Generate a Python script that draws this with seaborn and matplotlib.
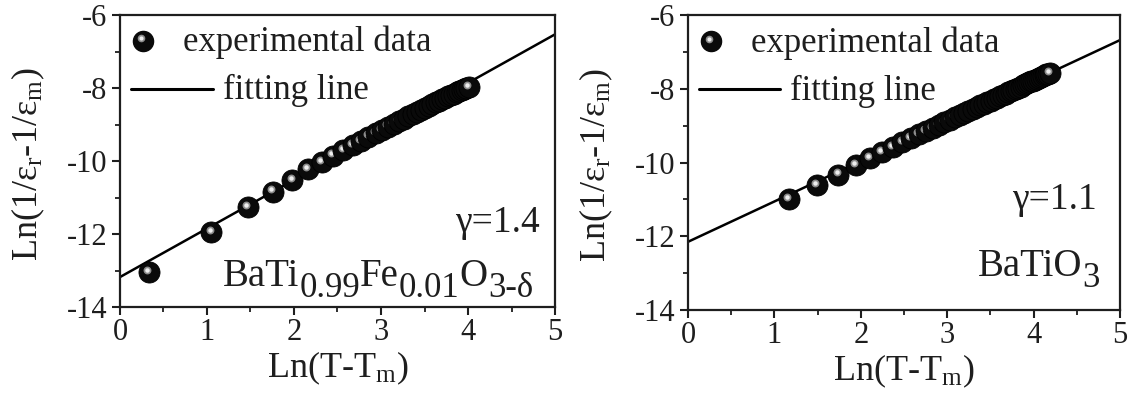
import matplotlib
matplotlib.use("Agg")
import matplotlib.pyplot as plt
from matplotlib.transforms import ScaledTranslation
from matplotlib.ticker import MultipleLocator
import seaborn as sns

# ---- data: Ln(T-Tm) vs Ln(1/eps_r - 1/eps_m) ----
fe_x = [0.33, 1.05, 1.47, 1.758, 1.981, 2.163, 2.317, 2.451, 2.569, 2.674,
        2.769, 2.856, 2.937, 3.011, 3.080, 3.144, 3.205, 3.262, 3.316, 3.367,
        3.416, 3.463, 3.507, 3.550, 3.590, 3.630, 3.667, 3.704, 3.739, 3.773,
        3.806, 3.837, 3.868, 3.898, 3.927, 3.955, 3.982, 4.009]
fe_y = [-13.05, -11.94, -11.26, -10.84, -10.52, -10.23, -10.03, -9.85, -9.70, -9.56,
        -9.45, -9.33, -9.23, -9.15, -9.06, -8.99, -8.91, -8.84, -8.78, -8.71,
        -8.66, -8.59, -8.55, -8.49, -8.45, -8.39, -8.35, -8.30, -8.27, -8.22,
        -8.19, -8.16, -8.12, -8.09, -8.05, -8.02, -7.99, -7.97]
fe_fit = (-13.18, 1.33)      # intercept, slope

bt_x = [1.163, 1.493, 1.740, 1.939, 2.104, 2.246, 2.370, 2.481, 2.580, 2.671,
        2.754, 2.830, 2.901, 2.968, 3.030, 3.089, 3.144, 3.197, 3.246, 3.294,
        3.339, 3.383, 3.424, 3.464, 3.503, 3.540, 3.575, 3.610, 3.643, 3.675,
        3.706, 3.736, 3.766, 3.794, 3.822, 3.849, 3.875, 3.901, 3.926, 3.950,
        3.974, 3.997, 4.020, 4.042, 4.064, 4.085, 4.106, 4.126, 4.146, 4.166,
        4.185]
bt_y = [-11.00, -10.62, -10.33, -10.08, -9.89, -9.72, -9.58, -9.45, -9.34, -9.24,
        -9.15, -9.06, -8.98, -8.91, -8.84, -8.77, -8.71, -8.65, -8.60, -8.55,
        -8.50, -8.45, -8.40, -8.36, -8.32, -8.28, -8.24, -8.20, -8.16, -8.13,
        -8.10, -8.06, -8.03, -8.00, -7.97, -7.94, -7.91, -7.88, -7.85, -7.83,
        -7.80, -7.78, -7.75, -7.73, -7.70, -7.68, -7.66, -7.64, -7.61, -7.59,
        -7.57]
bt_fit = (-12.15, 1.094)

fit_x = [0, 5]
x_ticks = [0, 1, 2, 3, 4, 5]
y_ticks = [-14, -12, -10, -8, -6]

fe_formula = ["BaTi", "0.99", "Fe", "0.01", "O", "3-δ"]
bt_formula = ["BaTiO", "3"]

INK = "#1e1e1e"

sns.set_theme(style="ticks")
plt.rcParams["font.family"] = ["Liberation Serif", "DejaVu Serif"]
plt.rcParams["mathtext.fontset"] = "custom"
plt.rcParams["mathtext.rm"] = "Liberation Serif"
plt.rcParams["mathtext.it"] = "Liberation Serif:italic"
plt.rcParams["mathtext.default"] = "rm"

fig = plt.figure(figsize=(11.35, 3.97), dpi=100)
ax1 = fig.add_axes([0.1057, 0.2267, 0.3833, 0.7355])
ax2 = fig.add_axes([0.6062, 0.2191, 0.3806, 0.7431])

BALL = 230


def balls(ax, xs, ys, size):
    # shaded spheres, drawn one by one so each overlaps the previous one
    shift = ax.transData + ScaledTranslation(-1.3 / 72, 1.6 / 72, fig.dpi_scale_trans)
    z = 3
    for xi, yi in zip(xs, ys):
        sns.scatterplot(x=[xi], y=[yi], ax=ax, s=size, color="#0a0a0a",
                        edgecolor="#000000", linewidth=0.6, zorder=z, legend=False)
        ax.scatter([xi], [yi], s=size * 0.14, color="#8c8c8c", linewidth=0,
                   transform=shift, zorder=z + 0.1)
        ax.scatter([xi], [yi], s=size * 0.045, color="#eeeeee", linewidth=0,
                   transform=shift, zorder=z + 0.2)
        z += 1


def formula(ax, x, y, parts, size, sub_size, drop):
    t = ax.text(x, y, parts[0], transform=ax.transAxes, fontsize=size,
                ha="left", va="baseline", color=INK)
    for i, p in enumerate(parts[1:], 1):
        sub = i % 2 == 1
        t = ax.annotate(p, xy=(1, y), xycoords=(t, "axes fraction"),
                        xytext=(0, -drop if sub else 0), textcoords="offset points",
                        fontsize=sub_size if sub else size, ha="left", va="baseline",
                        color=INK)


def panel(ax, xs, ys, fit, gamma, gx, gy, parts, fx, fy):
    b, m = fit
    sns.lineplot(x=fit_x, y=[b + m * v for v in fit_x], ax=ax, color="black",
                 linewidth=1.8, zorder=2)
    balls(ax, xs, ys, BALL)

    ax.set_xlim(0, 5)
    ax.set_ylim(-14, -6)
    ax.xaxis.set_minor_locator(MultipleLocator(0.5))
    ax.yaxis.set_minor_locator(MultipleLocator(1))
    ax.set_xticks(x_ticks)
    ax.set_xticklabels([str(v) for v in x_ticks])
    ax.set_yticks(y_ticks)
    ax.set_yticklabels([str(v) for v in y_ticks])
    ax.tick_params(axis="x", which="major", pad=2)
    ax.tick_params(axis="y", which="major", pad=3)
    ax.tick_params(which="major", direction="out", length=6, width=1.5,
                   labelsize=22, color=INK, labelcolor=INK)
    ax.tick_params(which="minor", direction="out", length=3.5, width=1.3, color=INK)
    for s in ax.spines.values():
        s.set_visible(True)
        s.set_linewidth(1.6)
        s.set_color(INK)

    ax.set_xlabel(r"Ln(T-T$_\mathrm{m}$)", fontsize=26, color=INK)
    ax.set_ylabel(r"Ln(1/ε$_\mathrm{r}$-1/ε$_\mathrm{m}$)", fontsize=26, color=INK)
    ax.xaxis.set_label_coords(0.5, -0.145)
    ax.yaxis.set_label_coords(-0.168, 0.49)

    # key
    ax.scatter([0.053], [0.912], s=210, color="#0a0a0a", transform=ax.transAxes,
               zorder=5, clip_on=False)
    sh = ax.transAxes + ScaledTranslation(-1.3 / 72, 1.6 / 72, fig.dpi_scale_trans)
    ax.scatter([0.053], [0.912], s=30, color="#8c8c8c", linewidth=0, transform=sh, zorder=6)
    ax.scatter([0.053], [0.912], s=9, color="#eeeeee", linewidth=0, transform=sh, zorder=7)
    ax.text(0.145, 0.905, "experimental data", transform=ax.transAxes, fontsize=25,
            va="center", ha="left", color=INK)
    ax.plot([0.025, 0.214], [0.748, 0.748], transform=ax.transAxes, color="black",
            linewidth=2.2)
    ax.text(0.237, 0.742, "fitting line", transform=ax.transAxes, fontsize=25,
            va="center", ha="left", color=INK)

    ax.text(gx, gy, gamma, transform=ax.transAxes, fontsize=27, ha="right",
            va="center", color=INK)
    formula(ax, fx, fy, parts, 28, 25, 8)


panel(ax1, fe_x, fe_y, fe_fit, "γ=1.4", 0.966, 0.29, fe_formula, 0.237, 0.072)
panel(ax2, bt_x, bt_y, bt_fit, "γ=1.1", 0.947, 0.373, bt_formula, 0.671, 0.115)

fig.savefig("out.png", dpi=100)
